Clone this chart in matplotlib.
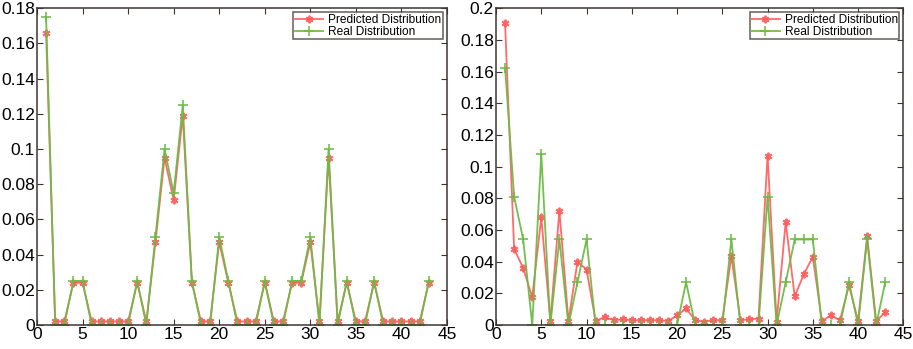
import matplotlib.pyplot as plt
import numpy as np
from matplotlib.ticker import FuncFormatter

plt.rcParams['font.family'] = ['Liberation Sans', 'DejaVu Sans']

# %% data
x = np.arange(1, 44)

pred_left = [0.166, 0.002, 0.002, 0.024, 0.024, 0.002, 0.002, 0.002, 0.002,
             0.002, 0.024, 0.002, 0.047, 0.095, 0.071, 0.119, 0.024, 0.002,
             0.002, 0.047, 0.024, 0.002, 0.002, 0.002, 0.024, 0.002, 0.002,
             0.024, 0.024, 0.047, 0.002, 0.095, 0.002, 0.024, 0.002, 0.002,
             0.024, 0.002, 0.002, 0.002, 0.002, 0.002, 0.024]
real_left = [0.175, 0, 0, 0.025, 0.025, 0, 0, 0, 0, 0, 0.025, 0, 0.05, 0.1,
             0.075, 0.125, 0.025, 0, 0, 0.05, 0.025, 0, 0, 0, 0.025, 0, 0,
             0.025, 0.025, 0.05, 0, 0.1, 0, 0.025, 0, 0, 0.025, 0, 0, 0, 0,
             0, 0.025]

pred_right = [0.1905, 0.048, 0.036, 0.0175, 0.068, 0.0025, 0.072, 0.0025,
              0.040, 0.035, 0.0025, 0.005, 0.003, 0.0035, 0.003, 0.003,
              0.003, 0.003, 0.0025, 0.006, 0.0105, 0.003, 0.002, 0.003,
              0.003, 0.0436, 0.003, 0.0036, 0.004, 0.107, 0.002, 0.065,
              0.018, 0.032, 0.043, 0.0025, 0.006, 0.003, 0.025, 0.0025,
              0.056, 0.0025, 0.008]
real_right = [0.1625, 0.081, 0.054, 0, 0.108, 0, 0.054, 0, 0.027, 0.054, 0,
              0, 0, 0, 0, 0, 0, 0, 0, 0, 0.027, 0, 0, 0, 0, 0.054, 0, 0, 0,
              0.081, 0, 0.027, 0.054, 0.054, 0.054, 0, 0, 0, 0.027, 0, 0.054,
              0, 0.027]

red = '#ff5a5a'
green = '#6cbb45'
frame = '#3e3431'

fig = plt.figure(figsize=(9.13, 3.49), dpi=100)
ax1 = fig.add_axes([0.0405, 0.0688, 0.4491, 0.9074])
ax2 = fig.add_axes([0.5433, 0.0688, 0.4461, 0.9074])


def style(ax, ymax, ystep):
    ax.set_xlim(0, 45)
    ax.set_ylim(0, ymax)
    ax.set_xticks(np.arange(0, 46, 5))
    ax.set_yticks(np.arange(0, ymax + 1e-9, ystep))
    ax.yaxis.set_major_formatter(FuncFormatter(lambda v, p: '%g' % round(v, 3)))
    ax.tick_params(direction='in', top=True, right=True, length=4,
                   width=0.8, color=frame, labelsize=12.5, pad=1.5)
    for s in ax.spines.values():
        s.set_color(frame)
        s.set_linewidth(1.1)
    leg = ax.legend(loc='upper right', fontsize=8.6, frameon=True,
                    fancybox=False, borderaxespad=0.35, borderpad=0.12,
                    handlelength=2.4, handletextpad=0.4, labelspacing=0.0)
    leg.get_frame().set_edgecolor(frame)
    leg.get_frame().set_linewidth(1.1)


def draw(ax, pred, real):
    ax.plot(x, pred, color=red, marker=(6, 2, 0), markersize=5.5,
            markeredgewidth=1.4, linewidth=1.3, alpha=0.9,
            label='Predicted Distribution')
    ax.plot(x, real, color=green, marker='+', markersize=7, linewidth=1.3,
            markeredgewidth=1.2, alpha=0.95, label='Real Distribution')


# %% Plot 1
draw(ax1, pred_left, real_left)
style(ax1, 0.18, 0.02)

# %% Plot 2
draw(ax2, pred_right, real_right)
style(ax2, 0.2, 0.02)

fig.savefig('out.png', dpi=100)
